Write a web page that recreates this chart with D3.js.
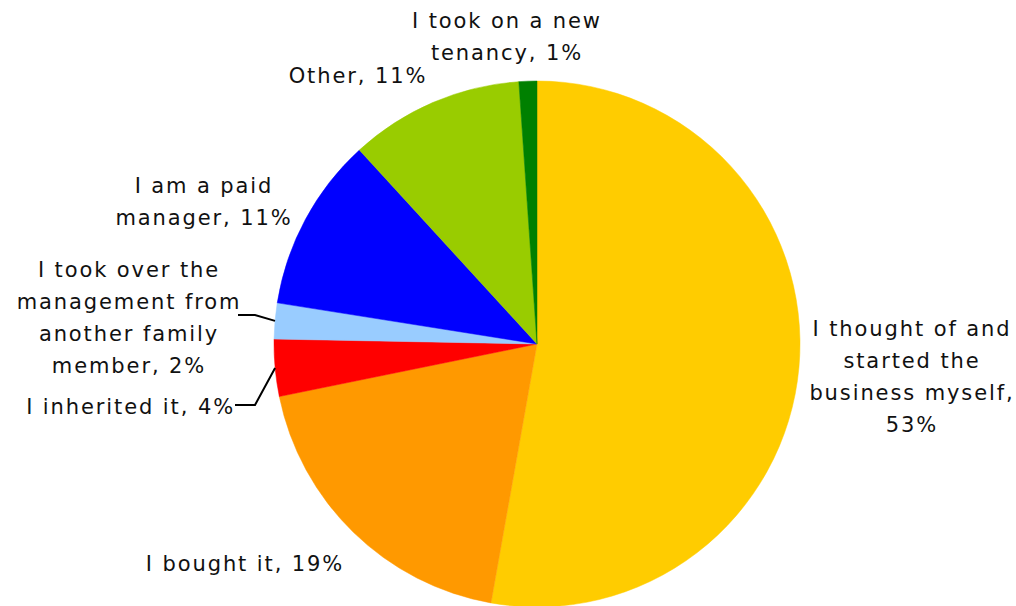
<!DOCTYPE html>
<html lang="en">
<head>
  <meta charset="UTF-8">
  <script src="https://d3js.org/d3.v7.min.js"></script>
  <title>Pie</title>
  <style>
    body { margin: 0; background: #fff; }
    text { font-family: Verdana, "DejaVu Sans", sans-serif; font-size: 21px; letter-spacing: 1.9px; fill: #111; }
  </style>
</head>
<body>
  <script>
    // slices, clockwise from 12 o'clock
    const categories = [
      "I thought of and started the business myself",
      "I bought it",
      "I inherited it",
      "I took over the management from another family member",
      "I am a paid manager",
      "Other",
      "I took on a new tenancy"
    ]
    const values = [52.8, 19.0, 3.5, 2.2, 10.7, 10.7, 1.1]
    const colors = ["#FFCC00", "#FF9900", "#FF0000", "#99CCFF", "#0000FF", "#99CC00", "#008000"]

    // label text lines (value appended from data)
    const labelLines = [
      ["I thought of and", "started the", "business myself,", "{v}"],
      ["I bought it, {v}"],
      ["I inherited it, {v}"],
      ["I took over the", "management from", "another family", "member, {v}"],
      ["I am a paid", "manager, {v}"],
      ["Other, {v}"],
      ["I took on a new", "tenancy, {v}"]
    ]

    const width = 1016, height = 606
    const cx = 537, cy = 344, radius = 263
    const lineH = 32

    // label layout: x, first baseline, anchor, optional leader elbow
    const labelPos = [
      { x: 912, y: 336, anchor: "middle" },
      { x: 245, y: 571, anchor: "middle" },
      { x: 235, y: 414, anchor: "end", leader: [[235, 405], [255, 405]] },
      { x: 129, y: 277, anchor: "middle", leader: [[238, 315], [255, 315]] },
      { x: 204, y: 193, anchor: "middle" },
      { x: 358, y: 83, anchor: "middle" },
      { x: 507, y: 28, anchor: "middle" }
    ]

    const svg = d3.select("body").append("svg")
        .attr("width", width)
        .attr("height", height)

    const g = svg.append("g")
        .attr("transform", `translate(${cx},${cy})`)

    const pie = d3.pie().sort(null).value(d => d)
    const arcs = pie(values)

    const arc = d3.arc().innerRadius(0).outerRadius(radius)
    const edge = d3.arc().innerRadius(radius).outerRadius(radius)

    g.selectAll("path.slice")
      .data(arcs)
      .join("path")
        .attr("class", "slice")
        .attr("d", arc)
        .attr("fill", (d, i) => colors[i])
        .attr("stroke", (d, i) => colors[i])
        .attr("stroke-width", 0.5)

    // leader lines
    arcs.forEach((d, i) => {
      const lp = labelPos[i]
      if (!lp.leader) return
      const c = edge.centroid(d)
      const pts = lp.leader.concat([[c[0] + cx, c[1] + cy]])
      svg.append("path")
          .attr("d", d3.line()(pts))
          .attr("fill", "none")
          .attr("stroke", "#000")
          .attr("stroke-width", 2)
    })

    // labels
    arcs.forEach((d, i) => {
      const lp = labelPos[i]
      const pct = Math.round(values[i]) + "%"
      const t = svg.append("text")
          .attr("x", lp.x)
          .attr("y", lp.y)
          .attr("text-anchor", lp.anchor)
      labelLines[i].forEach((line, k) => {
        t.append("tspan")
            .attr("x", lp.x)
            .attr("dy", k === 0 ? 0 : lineH)
            .text(line.replace("{v}", pct))
      })
    })
  </script>
</body>
</html>
